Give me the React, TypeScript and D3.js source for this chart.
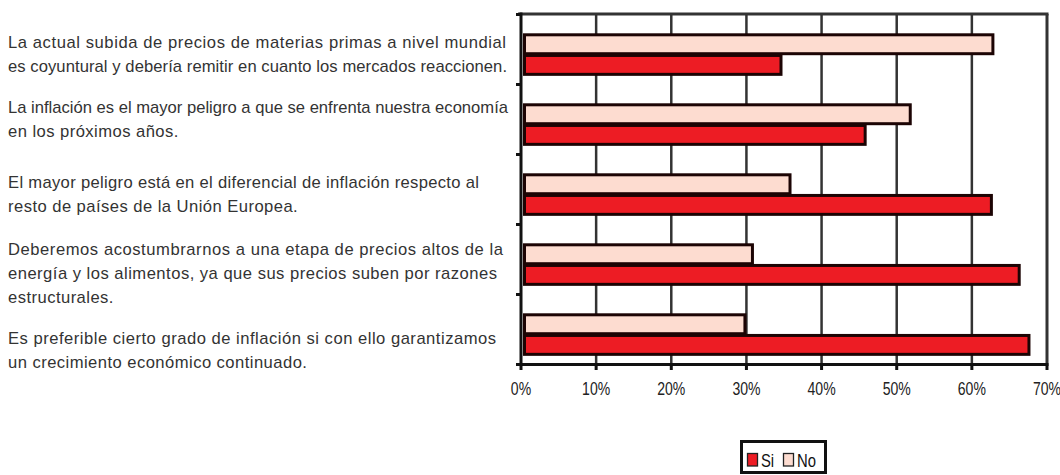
import React from "react";
import * as d3 from "d3";

const categories = [
  ["La actual subida de precios de materias primas a nivel mundial", "es coyuntural y debería remitir en cuanto los mercados reaccionen."],
  ["La inflación es el mayor peligro a que se enfrenta nuestra economía", "en los próximos años."],
  ["El mayor peligro está en el diferencial de inflación respecto al", "resto de países de la Unión Europea."],
  ["Deberemos acostumbrarnos a una etapa de precios altos de la", "energía y los alimentos, ya que sus precios suben por razones", "estructurales."],
  ["Es preferible cierto grado de inflación si con ello garantizamos", "un crecimiento económico continuado."],
];
// layout: baseline y and right end x of each full-width label line (0 = natural width)
const labelBaselines = [
  [48, 72],
  [113, 137],
  [188, 212],
  [255, 279, 303],
  [344, 368],
];
const labelEnds = [
  [506, 507],
  [508, 0],
  [479, 0],
  [503, 497, 0],
  [496, 0],
];
const siValues = [0.348, 0.46, 0.628, 0.665, 0.678];
const noValues = [0.63, 0.52, 0.36, 0.31, 0.30];
const xTicks = [0, 0.1, 0.2, 0.3, 0.4, 0.5, 0.6, 0.7];
const seriesNames = ["Si", "No"];

const SI_COLOR = "#ED1C24";
const NO_COLOR = "#FDDCD0";
const BAR_STROKE = "#1c0404";
const GRID = "#333333";

export default function App() {
  const x = d3.scaleLinear().domain([0, 0.7]).range([521, 1047]);
  const y = d3.scaleBand<number>().domain(d3.range(5)).range([14.5, 364.5]).paddingInner(0).paddingOuter(0);
  const bw = y.bandwidth();
  const fmt = d3.format(".0%");
  const sans = "'Liberation Sans', Arial, sans-serif";
  const SQ = 0.78;

  return (
    <svg width={1060} height={475} style={{ position: "absolute", left: 0, top: 0, background: "#fff" }}>
      {/* left labels */}
      {categories.map((lines, i) =>
        lines.map((t, j) => {
          const end = labelEnds[i][j];
          const extra = end > 0 ? { textLength: end - 8, lengthAdjust: "spacing" } : { letterSpacing: 0.45 };
          return (
            <text key={`l${i}-${j}`} x={8} y={labelBaselines[i][j]} fontFamily={sans} fontSize={16.6} fill="#333" {...extra}>
              {t}
            </text>
          );
        })
      )}
      {/* gridlines */}
      {xTicks.slice(1, -1).map((t) => (
        <line key={`g${t}`} x1={x(t)} x2={x(t)} y1={14} y2={364} stroke={GRID} strokeWidth={2.5} />
      ))}
      {/* top and right border */}
      <line x1={518} x2={1048.5} y1={14} y2={14} stroke={GRID} strokeWidth={3} />
      <line x1={1047} x2={1047} y1={14} y2={364} stroke={GRID} strokeWidth={3} />
      {/* bars */}
      {noValues.map((v, i) => (
        <rect key={`no${i}`} x={x(0) + 3.5} y={y(i)! + bw * 0.29} width={x(v) - x(0) - 5} height={bw * 0.27}
          fill={NO_COLOR} stroke={BAR_STROKE} strokeWidth={3} />
      ))}
      {siValues.map((v, i) => (
        <rect key={`si${i}`} x={x(0) + 3.5} y={y(i)! + bw * 0.585} width={x(v) - x(0) - 5} height={bw * 0.27}
          fill={SI_COLOR} stroke={BAR_STROKE} strokeWidth={3} />
      ))}
      {/* left axis */}
      <line x1={521} x2={521} y1={12.5} y2={366} stroke="#111" strokeWidth={3} />
      {d3.range(6).map((i) => (
        <line key={`yt${i}`} x1={516} x2={521} y1={14.5 + i * bw} y2={14.5 + i * bw} stroke="#111" strokeWidth={3} />
      ))}
      {/* bottom axis */}
      <line x1={516} x2={1048.5} y1={364.5} y2={364.5} stroke="#111" strokeWidth={3} />
      {xTicks.map((t) => (
        <g key={`xt${t}`}>
          <line x1={x(t)} x2={x(t)} y1={364} y2={370} stroke="#111" strokeWidth={3} />
          <text transform={`translate(${x(t)},395) scale(${SQ},1)`} textAnchor="middle" fontFamily={sans} fontSize={18} fill="#222">
            {fmt(t)}
          </text>
        </g>
      ))}
      {/* legend */}
      <rect x={741.5} y={441.5} width={84} height={31} fill="#fff" stroke="#111" strokeWidth={3} />
      {seriesNames.map((s, i) => (
        <g key={`lg${s}`} transform={`translate(${747 + i * 36},0)`}>
          <rect x={0.5} y={453.5} width={10} height={12.5} fill={i === 0 ? SI_COLOR : NO_COLOR} stroke="#222" strokeWidth={1.3} />
          <text transform={`translate(14,467) scale(${SQ},1)`} fontFamily={sans} fontSize={19} fill="#111">{s}</text>
        </g>
      ))}
    </svg>
  );
}
